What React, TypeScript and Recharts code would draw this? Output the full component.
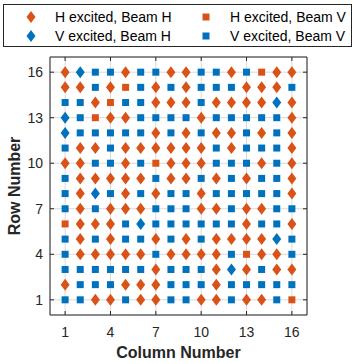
import { ScatterChart, Scatter, XAxis, YAxis, CartesianGrid, ReferenceArea, Label } from 'recharts'

// which beam/excitation combination wins in each cell, top row (16) first, columns 1..16
const rowNumbers = [16, 15, 14, 13, 12, 11, 10, 9, 8, 7, 6, 5, 4, 3, 2, 1]
const columnNumbers = [1, 2, 3, 4, 5, 6, 7, 8, 9, 10, 11, 12, 13, 14, 15, 16]
const axisTicks = [1, 4, 7, 10, 13, 16]

const cellCodes = [
	'HH VH VV VV HH VV VV HH HH VV VV HH VV HV HH HH',
	'HH HH VV HH HV VV HH VV HH VV VV VV HH HH HH VV',
	'VV VV HH HV VV VV HH HH HH VV HH HH HH HH VH HH',
	'VH VV HV HH HH VV VV VV VV HH VV VV VV VV VV HH',
	'VH VV VV VV VV VV HH VV HH VV HH HH VV HH VV HH',
	'VV HH HH VV HH HH HH HH HH HH VV HH VV VV VV HH',
	'HH HH VV VV HH VV HV HH HH HH VV VV VV HH VV HH',
	'VV HH HH HH HH HH VV HH HH VV HH VV HH VV VV HH',
	'VV HH VH VV HH VV HH VV VV HH VV VV VV VV VV HH',
	'VV HH VV HH HH HH VV VV VV HH HH VV HH HH VV VV',
	'HV HH HH HH VV VH VV VV VV VV VV VV HH VV VV HH',
	'VV HH VV HH VV VV HH VV HH VV HH HH HH HH VH VV',
	'VV HH HH HH HH HH VV HH HH HH HH VV HV HH HH VV',
	'VV VV VV VV VV VV HH VV VV VV HH VH HH VV HH HH',
	'HH VV VV VV HH HH HH VV VV VV HH VV VV VV VV VV',
	'VV VV HH HH VV HH HH VV VV HH HH VV HH HH VV HV',
]

const seriesCodes = ['HH', 'HV', 'VH', 'VV']
const seriesNames = ['H excited, Beam H', 'H excited, Beam V', 'V excited, Beam H', 'V excited, Beam V']
const seriesColors = ['#D95319', '#D95319', '#0072BD', '#0072BD']
const seriesShapes = ['diamond', 'square', 'diamond', 'square']

const FONT = '"Liberation Sans", Arial, Helvetica, sans-serif'
const INK = '#262626'
const PLOT_LEFT = 50
const PLOT_RIGHT = 307
const PLOT_TOP = 57
const PLOT_BOTTOM = 315

const seriesData = seriesCodes.map(code => {
	const pts: { col: number; row: number }[] = []
	cellCodes.forEach((line, r) => {
		line.split(' ').forEach((c, i) => {
			if (c === code) pts.push({ col: columnNumbers[i], row: rowNumbers[r] })
		})
	})
	return pts
})

const Diamond = (props: any) => {
	const { cx, cy, fill } = props
	return <path d={`M${cx},${cy - 6}L${cx + 4.5},${cy}L${cx},${cy + 6}L${cx - 4.5},${cy}Z`} fill={fill} />
}

const Square = (props: any) => {
	const { cx, cy, fill } = props
	return <rect x={cx - 3.5} y={cy - 3.5} width={7} height={7} fill={fill} />
}

const XTick = (props: any) => {
	const { x, payload } = props
	return (
		<g>
			<line x1={x} x2={x} y1={PLOT_BOTTOM} y2={PLOT_BOTTOM - 4} stroke={INK} />
			<line x1={x} x2={x} y1={PLOT_TOP} y2={PLOT_TOP + 4} stroke={INK} />
			<text x={x} y={PLOT_BOTTOM + 22} textAnchor='middle' fontSize={14} fill={INK} fontFamily={FONT}>
				{payload.value}
			</text>
		</g>
	)
}

const YTick = (props: any) => {
	const { y, payload } = props
	return (
		<g>
			<line x1={PLOT_LEFT} x2={PLOT_LEFT + 4} y1={y} y2={y} stroke={INK} />
			<line x1={PLOT_RIGHT} x2={PLOT_RIGHT - 4} y1={y} y2={y} stroke={INK} />
			<text x={43} y={y + 5} textAnchor='end' fontSize={14} fill={INK} fontFamily={FONT}>
				{payload.value}
			</text>
		</g>
	)
}

const LegendMarker = ({ shape, color }: { shape: string; color: string }) => (
	<svg width={14} height={14} style={{ display: 'block' }}>
		{shape === 'diamond' ? (
			<path d='M7,1L11.5,7L7,13L2.5,7Z' fill={color} />
		) : (
			<rect x={3.5} y={3.5} width={7} height={7} fill={color} />
		)}
	</svg>
)

const App = () => {
	return (
		<div style={{ position: 'absolute', left: 0, top: 0, width: 360, height: 364, background: '#fff', fontFamily: FONT }}>
			<ScatterChart width={360} height={364} margin={{ top: PLOT_TOP, right: 360 - PLOT_RIGHT, bottom: 19, left: 10 }}>
				<CartesianGrid stroke='#dadada' strokeWidth={1} />
				<XAxis
					type='number'
					dataKey='col'
					domain={[0, 17]}
					ticks={axisTicks}
					height={30}
					axisLine={false}
					tickLine={false}
					tick={<XTick />}
					interval={0}
				>
					<Label
						content={() => (
							<text x={(PLOT_LEFT + PLOT_RIGHT) / 2} y={358} textAnchor='middle' fontSize={16} fontWeight='bold' fill={INK} fontFamily={FONT}>
								Column Number
							</text>
						)}
					/>
				</XAxis>
				<YAxis
					type='number'
					dataKey='row'
					domain={[0, 17]}
					ticks={axisTicks}
					width={40}
					axisLine={false}
					tickLine={false}
					tick={<YTick />}
					interval={0}
				>
					<Label
						content={() => (
							<text
								x={20}
								y={(PLOT_TOP + PLOT_BOTTOM) / 2}
								transform={`rotate(-90 20 ${(PLOT_TOP + PLOT_BOTTOM) / 2})`}
								textAnchor='middle'
								fontSize={16}
								fontWeight='bold'
								fill={INK}
								fontFamily={FONT}
							>
								Row Number
							</text>
						)}
					/>
				</YAxis>
				<ReferenceArea x1={0} x2={17} y1={0} y2={17} fill='none' fillOpacity={0} stroke={INK} strokeWidth={1} />
				{seriesData.map((pts, i) => (
					<Scatter
						key={seriesCodes[i]}
						name={seriesNames[i]}
						data={pts}
						fill={seriesColors[i]}
						shape={seriesShapes[i] === 'diamond' ? <Diamond /> : <Square />}
						isAnimationActive={false}
					/>
				))}
			</ScatterChart>
			<div
				style={{
					position: 'absolute',
					left: 3,
					top: 4,
					width: 347,
					height: 41,
					border: `1px solid ${INK}`,
					background: '#fff',
					fontSize: 14,
					color: '#000',
				}}
			>
				{seriesNames.map((name, i) => (
					<div
						key={name}
						style={{
							position: 'absolute',
							left: i % 2 === 0 ? 20 : 195,
							top: i < 2 ? 3 : 22,
							display: 'flex',
							alignItems: 'center',
							height: 18,
							whiteSpace: 'nowrap',
						}}
					>
						<LegendMarker shape={seriesShapes[i]} color={seriesColors[i]} />
						<span style={{ marginLeft: 17 }}>{name}</span>
					</div>
				))}
			</div>
		</div>
	)
}

export default App
